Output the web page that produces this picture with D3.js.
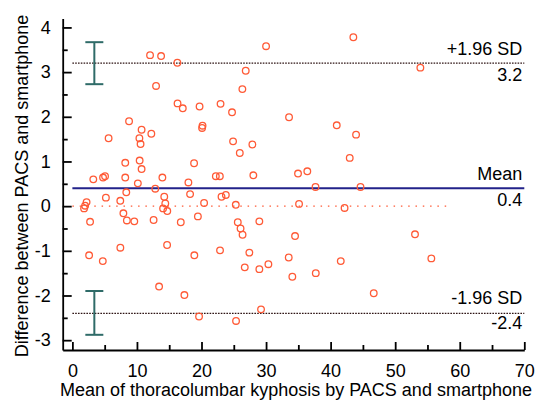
<!DOCTYPE html>
<html lang="en">
<head>
  <meta charset="utf-8">
  <title>Bland-Altman</title>
  <style>
    body {
      margin:0;
      background-color:#fff;
    }
    svg text {
      font-family:"Liberation Sans", Arial, sans-serif;
      font-size:18px;
      fill:#000;
    }
    .axis path, .axis line {
      stroke:#000;
      stroke-width:1.8px;
    }
    .pt {
      fill:none;
      stroke:#ff5a36;
      stroke-width:1.3px;
    }
  </style>
</head>
<body>
  <div id="chart"></div>
  <script src="https://cdn.jsdelivr.net/npm/d3@7"></script>
  <script>
    var W = 537, H = 403;

    // mean of the two measurements
    var meanVals = [
      12.03,13.74,16.26,12.96,16.29,17.10,19.70,22.95,8.78,10.72,
      20.16,20.09,5.61,10.38,10.56,12.23,8.19,10.42,10.72,18.85,
      3.24,4.75,5.06,8.19,13.94,10.14,17.97,22.22,22.84,8.35,
      12.84,30.0,43.52,26.85,26.33,24.73,33.56,40.95,43.94,24.89,
      27.88,25.93,42.96,28.03,34.95,36.39,37.66,44.63,53.9,5.19,
      7.42,2.20,1.97,1.81,14.23,14.39,14.05,14.70,18.23,20.40,
      23.1,23.77,25.31,35.11,42.16,7.90,2.74,8.44,9.59,12.58,
      16.79,19.44,25.62,28.96,26.05,26.36,34.49,7.43,14.67,2.59,
      4.71,18.89,22.87,27.41,33.51,41.57,26.70,28.96,30.36,34.07,
      37.70,13.43,17.35,19.62,29.22,25.35,53.07,55.6,46.68
    ];
    // difference PACS - smartphone
    var diffVals = [
      3.38,3.36,3.21,2.69,2.30,2.19,2.23,2.29,1.90,1.71,
      1.80,1.75,1.52,1.52,1.39,1.62,0.97,1.02,0.83,0.96,
      0.60,0.64,0.67,0.64,0.64,0.51,0.53,0.67,0.67,0.31,
      0.39,3.58,3.78,3.03,2.62,2.10,1.99,1.81,1.60,1.45,
      1.38,1.19,1.08,0.69,0.73,0.78,0.43,0.43,3.10,0.19,
      0.12,0.09,0.01,-0.05,0.21,0.06,-0.05,-0.11,0.27,0.07,
      0.21,0.25,0.03,0.05,-0.04,-0.16,-0.35,-0.32,-0.34,-0.31,
      -0.36,-0.23,-0.36,-0.34,-0.50,-0.64,-0.67,-0.93,-0.87,-1.10,
      -1.23,-1.10,-0.99,-1.04,-1.15,-1.23,-1.37,-1.41,-1.30,-1.58,
      -1.50,-1.80,-1.99,-2.47,-2.31,-2.57,-0.63,-1.17,-1.95
    ];

    var meanDiff = 0.4, upperLoA = 3.2, lowerLoA = -2.4;
    var upperCI = [2.73, 3.67], lowerCI = [-2.88, -1.90], ciAt = 3.4;
    var zeroLineEnd = 58.5;

    var xTicks = [0,10,20,30,40,50,60,70];
    var xMinor = [5,15,25,35,45,55,65];
    var yTicks = [-3,-2,-1,0,1,2,3,4];
    var yMinor = [-2.5,-1.5,-0.5,0.5,1.5,2.5,3.5];

    var x = d3.scaleLinear().domain([-1.5, 70]).range([62.7, 524.3]);
    var y = d3.scaleLinear().domain([-3.22, 4.2]).range([350, 18.5]);

    var plain = function(d){ return String(d); }; // keep hyphen minus like the original

    var svg = d3.select("#chart").append("svg")
        .attr("width", W)
        .attr("height", H);

    // zero line (red dotted)
    svg.append("line")
        .attr("x1", x(0)).attr("x2", x(zeroLineEnd))
        .attr("y1", y(0)).attr("y2", y(0))
        .attr("stroke", "#ff5a36")
        .attr("stroke-width", 1.4)
        .attr("stroke-dasharray", "1.5,5.8");

    // limits of agreement
    [upperLoA, lowerLoA].forEach(function(v){
      svg.append("line")
          .attr("x1", x(0)).attr("x2", x(70))
          .attr("y1", y(v)).attr("y2", y(v))
          .attr("stroke", "#2e1414")
          .attr("stroke-width", 1.3)
          .attr("stroke-dasharray", "1.6,1.2");
    });

    // mean line
    svg.append("line")
        .attr("x1", x(0)).attr("x2", x(70))
        .attr("y1", y(meanDiff)).attr("y2", y(meanDiff))
        .attr("stroke", "#22228a")
        .attr("stroke-width", 2);

    // confidence interval bars
    [upperCI, lowerCI].forEach(function(ci){
      var g = svg.append("g")
          .attr("stroke", "#2f6b68")
          .attr("stroke-width", 2);
      g.append("line")
          .attr("x1", x(ciAt)).attr("x2", x(ciAt))
          .attr("y1", y(ci[0])).attr("y2", y(ci[1]));
      ci.forEach(function(v){
        g.append("line")
            .attr("x1", x(ciAt) - 9).attr("x2", x(ciAt) + 9)
            .attr("y1", y(v)).attr("y2", y(v));
      });
    });

    // points
    svg.append("g").selectAll("circle")
        .data(meanVals)
        .enter().append("circle")
        .attr("class", "pt")
        .attr("cx", function(d){ return x(d); })
        .attr("cy", function(d, i){ return y(diffVals[i]); })
        .attr("r", 3.3);

    // axes
    svg.append("g")
        .attr("class", "axis")
        .attr("transform", "translate(0," + y(-3.22) + ")")
        .call(d3.axisBottom(x).tickValues(xTicks).tickFormat(plain).tickSize(-8).tickSizeOuter(0).tickPadding(14));
    svg.append("g")
        .attr("class", "axis")
        .attr("transform", "translate(0," + y(-3.22) + ")")
        .call(d3.axisBottom(x).tickValues(xMinor).tickSize(-5).tickFormat(""))
        .select(".domain").remove();

    svg.append("g")
        .attr("class", "axis")
        .attr("transform", "translate(" + x(-1.5) + ",0)")
        .call(d3.axisLeft(y).tickValues(yTicks).tickFormat(plain).tickSize(-9).tickSizeOuter(0).tickPadding(12));
    svg.append("g")
        .attr("class", "axis")
        .attr("transform", "translate(" + x(-1.5) + ",0)")
        .call(d3.axisLeft(y).tickValues(yMinor).tickSize(-5).tickFormat(""))
        .select(".domain").remove();

    svg.selectAll(".axis text")
        .attr("font-size", 18)
        .attr("font-family", "Liberation Sans, Arial, sans-serif");

    // line labels
    var lbl = [
      {t: "+1.96 SD", v: upperLoA, dy: -8},
      {t: "3.2", v: upperLoA, dy: 18},
      {t: "Mean", v: meanDiff, dy: -8},
      {t: "0.4", v: meanDiff, dy: 18},
      {t: "-1.96 SD", v: lowerLoA, dy: -9},
      {t: "-2.4", v: lowerLoA, dy: 16}
    ];
    svg.selectAll("text.lbl")
        .data(lbl)
        .enter().append("text")
        .attr("class", "lbl")
        .attr("x", x(70) - 2)
        .attr("y", function(d){ return y(d.v) + d.dy; })
        .attr("text-anchor", "end")
        .text(function(d){ return d.t; });

    // axis titles
    svg.append("text")
        .attr("x", 296)
        .attr("y", 396)
        .attr("text-anchor", "middle")
        .text("Mean of thoracolumbar kyphosis by PACS and smartphone");

    svg.append("text")
        .attr("transform", "translate(28,186) rotate(-90)")
        .attr("text-anchor", "middle")
        .text("Difference between PACS and smartphone");
  </script>
</body>
</html>
